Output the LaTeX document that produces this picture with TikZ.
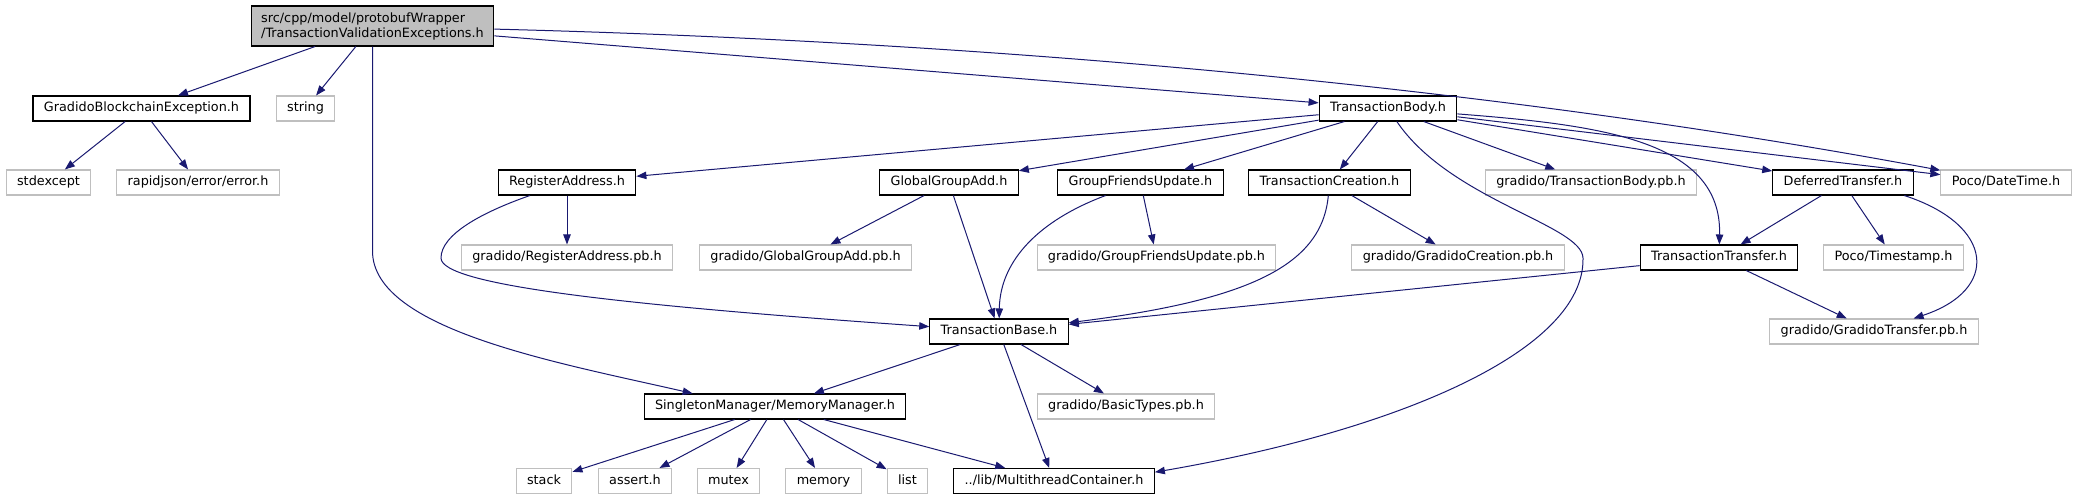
\documentclass[tikz,border=0pt]{standalone}
\usepackage{fontspec}
\setmainfont{DejaVu Sans}
\usetikzlibrary{arrows.meta}
\definecolor{incblue}{RGB}{25,25,112}
\definecolor{extgray}{RGB}{191,191,191}
\tikzset{
  hdr/.style={draw=black, line width=0.8pt, fill=white, inner xsep=8.2pt, inner ysep=0pt,
              minimum height=18.75pt, text height=7.2pt, text depth=2.2pt,
              font=\fontsize{9.6}{11.25}\selectfont},
  ext/.style={hdr, draw=extgray, line width=0.8pt},
  rootbox/.style={draw=black, line width=0.8pt, fill=extgray, align=left, inner xsep=7.5pt,
                  inner ysep=0pt, minimum height=30pt, font=\fontsize{9.6}{11.25}\selectfont},
  inc/.style={-{Triangle[length=7.5pt, width=5.6pt]}, incblue, line width=0.75pt},
}

\begin{document}
\begin{tikzpicture}[x=0.75pt, y=0.75pt]
  \useasboundingbox (0,0) rectangle (2078,-500);
  \node[rootbox] (root) at (372.5,-26) {src/cpp/model/protobufWrapper\\/TransactionValidationExceptions.h};
  \node[hdr] (gbe) at (141.5,-108.5) {GradidoBlockchainException.h};
  \node[ext] (str) at (305.5,-108.5) {string};
  \node[hdr] (tbody) at (1388,-108.5) {TransactionBody.h};
  \node[ext] (stdexc) at (48.5,-182.5) {stdexcept};
  \node[ext] (rjson) at (198,-182.5) {rapidjson/error/error.h};
  \node[hdr] (regaddr) at (567,-182.5) {RegisterAddress.h};
  \node[hdr] (ggadd) at (949,-182.5) {GlobalGroupAdd.h};
  \node[hdr] (gfupd) at (1140.5,-182.5) {GroupFriendsUpdate.h};
  \node[hdr] (tcreat) at (1329.5,-182.5) {TransactionCreation.h};
  \node[ext] (tbodypb) at (1591,-182.5) {gradido/TransactionBody.pb.h};
  \node[hdr] (deftr) at (1843,-182.5) {DeferredTransfer.h};
  \node[ext] (datetime) at (2006,-182.5) {Poco/DateTime.h};
  \node[ext] (regaddrpb) at (567,-257.5) {gradido/RegisterAddress.pb.h};
  \node[ext] (ggaddpb) at (805.5,-257.5) {gradido/GlobalGroupAdd.pb.h};
  \node[ext] (gfupdpb) at (1156.5,-257.5) {gradido/GroupFriendsUpdate.pb.h};
  \node[ext] (gcreatpb) at (1458,-257.5) {gradido/GradidoCreation.pb.h};
  \node[hdr] (ttrans) at (1719,-257.5) {TransactionTransfer.h};
  \node[ext] (tstamp) at (1893.5,-257.5) {Poco/Timestamp.h};
  \node[hdr] (tbase) at (999,-331.5) {TransactionBase.h};
  \node[ext] (gtranspb) at (1874,-331.5) {gradido/GradidoTransfer.pb.h};
  \node[hdr] (memmgr) at (775,-406.5) {SingletonManager/MemoryManager.h};
  \node[ext] (btypes) at (1126,-406.5) {gradido/BasicTypes.pb.h};
  \node[ext] (stack) at (544,-481) {stack};
  \node[ext] (assert) at (635,-481) {assert.h};
  \node[ext] (mutex) at (728.5,-481) {mutex};
  \node[ext] (memory) at (823.5,-481) {memory};
  \node[ext] (list) at (907.5,-481) {list};
  \node[hdr] (mtcont) at (1054,-481) {../lib/MultithreadContainer.h};

  \foreach \a/\b in {root/gbe, root/str, root/tbody, gbe/stdexc, gbe/rjson,
      tbody/regaddr, tbody/ggadd, tbody/gfupd, tbody/tcreat, tbody/tbodypb,
      tbody/deftr, tbody/datetime, regaddr/regaddrpb, ggadd/ggaddpb, ggadd/tbase,
      gfupd/gfupdpb, tcreat/gcreatpb, deftr/ttrans, deftr/tstamp, ttrans/tbase,
      ttrans/gtranspb, tbase/memmgr, tbase/mtcont, tbase/btypes, memmgr/mtcont}
    \draw[inc] (\a) -- (\b);
  \foreach \b in {stack, assert, mutex, memory, list}
    \draw[inc] (memmgr) -- (\b);

  \draw[inc] (root) -- ++(0,-225) .. controls (372.5,-330) and (560,-363) .. (memmgr.171);
  \draw[inc] (root) .. controls (1000,-42) and (1500,-88) .. (datetime);
  \draw[inc] (tbody) .. controls (1450,-200) and (1582,-225) .. (1583,-258)
    .. controls (1585,-350) and (1400,-430) .. (mtcont.5);
  \draw[inc] (tbody) .. controls (1600,-125) and (1722,-140) .. (ttrans);
  \draw[inc] (regaddr) .. controls (480,-213) and (441,-235) .. (441,-258)
    .. controls (441,-285) and (620,-305) .. (tbase);
  \draw[inc] (gfupd) .. controls (1040,-220) and (1000,-260) .. (tbase);
  \draw[inc] (tcreat) .. controls (1322,-265) and (1250,-300) .. (tbase);
  \draw[inc] (deftr.-12) .. controls (1995,-225) and (2000,-290) .. (gtranspb);
\end{tikzpicture}
\end{document}
